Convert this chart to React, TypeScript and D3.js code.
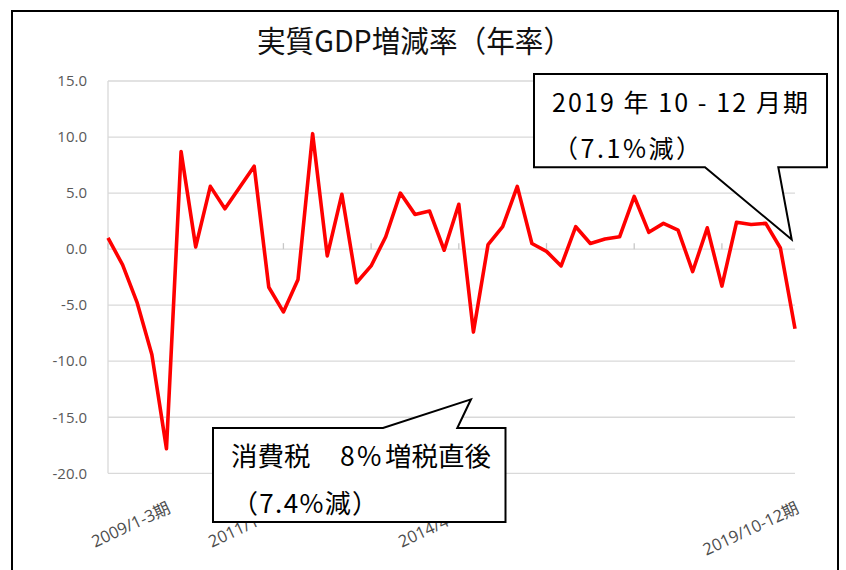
import * as d3 from 'd3';

// quarterly real GDP growth (annualised), 2008 Q1 .. 2019 Q4
const years = [2008, 2009, 2010, 2011, 2012, 2013, 2014, 2015, 2016, 2017, 2018, 2019];
const quarters = ['1-3', '4-6', '7-9', '10-12'];
const categories = years.flatMap((y) => quarters.map((q) => `${y}/${q}期`));

const gdpGrowth = [
  1.0, -1.4, -4.8, -9.4, -17.8, 8.7, 0.2, 5.6, 3.6, 5.5, 7.4, -3.4,
  -5.6, -2.7, 10.3, -0.6, 4.9, -3.0, -1.5, 1.1, 5.0, 3.1, 3.4, -0.1,
  4.0, -7.4, 0.4, 2.0, 5.6, 0.5, -0.2, -1.5, 2.0, 0.5, 0.9, 1.1,
  4.7, 1.5, 2.3, 1.7, -2.0, 1.9, -3.3, 2.4, 2.2, 2.3, 0.1, -7.1,
];

const yTicks = [15, 10, 5, 0, -5, -10, -15, -20];
const shownLabels = ['2009/1-3期', '2011/1-3期', '2014/4-6期', '2019/10-12期'];
const TICK_EVERY = 6;

const TITLE = '実質GDP増減率（年率）';

const WIDTH = 846;
const HEIGHT = 570;
const PLOT = { left: 108, right: 795, top: 81, bottom: 473.3 };

const LABEL_FONT = '"Open Sans", "Noto Sans CJK JP", sans-serif';
const JP_FONT = '"Noto Sans CJK JP", sans-serif';

export default function App() {
  const x = d3.scalePoint<string>().domain(categories).range([PLOT.left, PLOT.right]);
  const y = d3.scaleLinear().domain([-20, 15]).range([PLOT.bottom, PLOT.top]);

  const line = d3
    .line<number>()
    .x((_, i) => x(categories[i]) as number)
    .y((d) => y(d));

  const y0 = y(0);

  return (
    <svg
      width={WIDTH}
      height={HEIGHT}
      style={{ position: 'absolute', left: 0, top: 0, background: '#fff' }}
    >
      {/* chart frame */}
      <rect x={12} y={11} width={826} height={600} fill="#fff" stroke="#000" strokeWidth={2} />

      <text
        x={257}
        y={52}
        fontFamily={JP_FONT}
        fontSize={30}
        fill="#111"
        textLength={315}
        lengthAdjust="spacingAndGlyphs"
      >
        {TITLE}
      </text>

      {/* gridlines + y labels */}
      {yTicks.map((t) => (
        <g key={t}>
          <line x1={PLOT.left} x2={PLOT.right} y1={y(t)} y2={y(t)} stroke="#d9d9d9" strokeWidth={1.3} />
          <text
            x={87}
            y={y(t)}
            dy="0.35em"
            textAnchor="end"
            fontFamily={LABEL_FONT}
            fontSize={15}
            fill="#595959"
          >
            {t.toFixed(1)}
          </text>
        </g>
      ))}
      <line x1={PLOT.left} x2={PLOT.left} y1={PLOT.top} y2={PLOT.bottom} stroke="#d9d9d9" strokeWidth={1.3} />

      {/* category axis ticks at zero */}
      {categories
        .filter((_, i) => i % TICK_EVERY === 0)
        .map((c) => (
          <line key={c} x1={x(c)} x2={x(c)} y1={y0 - 6} y2={y0} stroke="#c8c8c8" strokeWidth={1.3} />
        ))}

      <path
        d={line(gdpGrowth) ?? ''}
        fill="none"
        stroke="#ff0000"
        strokeWidth={3.6}
        strokeLinejoin="round"
      />

      {/* category labels */}
      {shownLabels.map((c) => {
        const cx = (x(c) as number) + 5;
        const cy = 512;
        return (
          <text
            key={c}
            x={cx}
            y={cy}
            textAnchor="end"
            transform={`rotate(-25, ${cx}, ${cy})`}
            fontFamily={LABEL_FONT}
            fontSize={16.5}
            fill="#4d4d4d"
          >
            {c}
          </text>
        );
      })}

      {/* callout: consumption tax hike */}
      <path
        d="M213,428 L383,428 L471,399.3 L457.3,428 L505.5,428 L505.5,522 L213,522 Z"
        fill="#fff"
        stroke="#000"
        strokeWidth={2}
        strokeLinejoin="miter"
      />
      <text y={466} fontFamily={JP_FONT} fontSize={26.5} fill="#000">
        <tspan x={231}>消費税</tspan>
        <tspan x={340}>8</tspan>
        <tspan x={357}>%</tspan>
        <tspan x={385}>増税直後</tspan>
      </text>
      <text x={232} y={513} fontFamily={JP_FONT} fontSize={26} fill="#000" textLength={146} lengthAdjust="spacing">
        （7.4%減）
      </text>

      {/* callout: latest quarter */}
      <path
        d="M534,74 L827,74 L827,167.3 L778.3,167.3 L791.7,239.5 L705,167.3 L534,167.3 Z"
        fill="#fff"
        stroke="#000"
        strokeWidth={2}
        strokeLinejoin="miter"
      />
      <text x={552} y={112} fontFamily={JP_FONT} fontSize={25} fill="#000" textLength={256} lengthAdjust="spacing">
        2019 年 10 - 12 月期
      </text>
      <text x={553} y={158} fontFamily={JP_FONT} fontSize={25} fill="#000" textLength={148} lengthAdjust="spacing">
        （7.1%減）
      </text>
    </svg>
  );
}
